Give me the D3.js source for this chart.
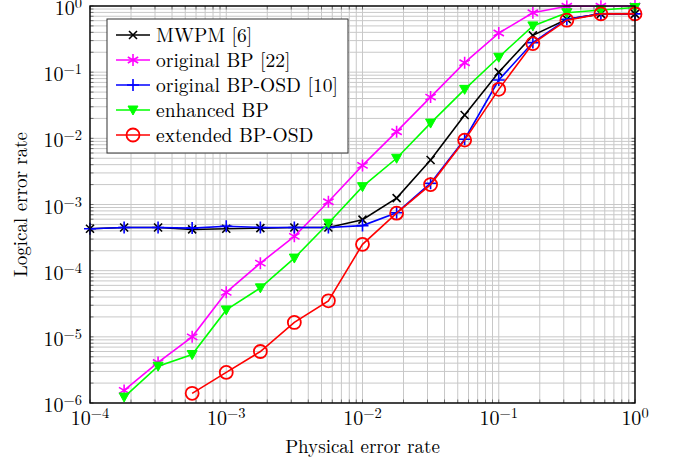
<!DOCTYPE html>
<html>
<head>
<meta charset="utf-8">
<script src="https://cdn.jsdelivr.net/npm/d3@7"></script>
<style>
  body { margin: 0; background: #fff; }
  svg text { font-family: "Latin Modern Roman", "Liberation Serif", "DejaVu Serif", serif; }
</style>
</head>
<body>
<svg id="chart" width="680" height="466"></svg>
<script>
// physical error rates (x)
var pRates = [1e-4, 1.78e-4, 3.16e-4, 5.62e-4, 1e-3, 1.78e-3, 3.16e-3, 5.62e-3,
              1e-2, 1.78e-2, 3.16e-2, 5.62e-2, 1e-1, 1.78e-1, 3.16e-1, 5.62e-1, 1];

// logical error rates per decoder (null = not plotted)
var mwpm      = [4.3e-4, 4.5e-4, 4.5e-4, 4.2e-4, 4.3e-4, 4.4e-4, 4.5e-4, 4.5e-4,
                 5.9e-4, 1.25e-3, 4.7e-3, 2.25e-2, 0.1, 0.36, 0.63, 0.76, 0.76];
var origBP    = [null, 1.55e-6, 4.1e-6, 1.0e-5, 4.7e-5, 1.3e-4, 3.3e-4, 1.1e-3,
                 3.9e-3, 1.26e-2, 4.2e-2, 0.139, 0.39, 0.79, 0.99, 0.99, 1.0];
var origOSD   = [4.3e-4, 4.5e-4, 4.5e-4, 4.4e-4, 4.7e-4, 4.5e-4, 4.5e-4, 4.5e-4,
                 4.8e-4, 7.5e-4, 2.1e-3, 9.7e-3, 0.076, 0.28, 0.63, 0.76, 0.76];
var enhBP     = [null, 1.23e-6, 3.6e-6, 5.4e-6, 2.55e-5, 5.5e-5, 1.55e-4, 5.2e-4,
                 1.86e-3, 5.0e-3, 1.7e-2, 5.5e-2, 0.168, 0.5, 0.79, 0.87, 0.95];
var extOSD    = [null, null, null, 1.4e-6, 2.9e-6, 6.0e-6, 1.65e-5, 3.5e-5,
                 2.5e-4, 7.4e-4, 2.0e-3, 9.4e-3, 0.055, 0.27, 0.61, 0.76, 0.76];

var seriesNames  = ["MWPM [6]", "original BP [22]", "original BP-OSD [10]", "enhanced BP", "extended BP-OSD"];
var seriesValues = [mwpm, origBP, origOSD, enhBP, extOSD];
var seriesColors = ["#000000", "#ff00ff", "#0000ff", "#00ff00", "#ff0000"];
var seriesMarks  = ["x", "asterisk", "plus", "triangle", "circle"];

var xTickExps = [-4, -3, -2, -1, 0];
var yTickExps = [-6, -5, -4, -3, -2, -1, 0];

var margins = {top: 6, right: 45, bottom: 63, left: 90};
var svg = d3.select("#chart");
var width = +svg.attr("width") - margins.left - margins.right;
var height = +svg.attr("height") - margins.top - margins.bottom;

var g = svg.append("g")
  .attr("transform", "translate(" + margins.left + "," + margins.top + ")");

var x = d3.scaleLog().domain([1e-4, 1]).range([0, width]);
var y = d3.scaleLog().domain([1e-6, 1]).range([height, 0]);

// minor + major values for grid
function logValues(lo, hi){
  var out = [];
  for (var e = lo; e < hi; e++){
    for (var m = 1; m < 10; m++) out.push(m * Math.pow(10, e));
  }
  out.push(Math.pow(10, hi));
  return out;
}
var xGrid = logValues(-4, 0);
var yGrid = logValues(-6, 0);

// grid lines
var grid = g.append("g").attr("class", "grid");
grid.selectAll("line.gx").data(xGrid).enter().append("line")
  .attr("x1", function(d){ return x(d); }).attr("x2", function(d){ return x(d); })
  .attr("y1", 0).attr("y2", height)
  .attr("stroke", "#c8c8c8").attr("stroke-width", 1);
grid.selectAll("line.gy").data(yGrid).enter().append("line")
  .attr("y1", function(d){ return y(d); }).attr("y2", function(d){ return y(d); })
  .attr("x1", 0).attr("x2", width)
  .attr("stroke", "#c8c8c8").attr("stroke-width", 1);

// inner tick marks on all sides
function tickMarks(sel, vals, horiz){
  var len = 3.5;
  vals.forEach(function(v){
    if (horiz){
      sel.append("line").attr("x1", x(v)).attr("x2", x(v)).attr("y1", height).attr("y2", height - len)
        .attr("stroke", "#555").attr("stroke-width", 0.8);
      sel.append("line").attr("x1", x(v)).attr("x2", x(v)).attr("y1", 0).attr("y2", len)
        .attr("stroke", "#555").attr("stroke-width", 0.8);
    } else {
      sel.append("line").attr("y1", y(v)).attr("y2", y(v)).attr("x1", 0).attr("x2", len)
        .attr("stroke", "#555").attr("stroke-width", 0.8);
      sel.append("line").attr("y1", y(v)).attr("y2", y(v)).attr("x1", width).attr("x2", width - len)
        .attr("stroke", "#555").attr("stroke-width", 0.8);
    }
  });
}
var ticks = g.append("g");
tickMarks(ticks, xGrid, true);
tickMarks(ticks, yGrid, false);

// series lines
var line = d3.line()
  .defined(function(d){ return d[1] != null; })
  .x(function(d){ return x(d[0]); })
  .y(function(d){ return y(d[1]); });

function drawMarker(sel, type, color){
  if (type == "x"){
    sel.append("path").attr("d", "M-4,-4L4,4M-4,4L4,-4")
      .attr("stroke", color).attr("stroke-width", 1.6).attr("fill", "none");
  } else if (type == "plus"){
    sel.append("path").attr("d", "M-6,0L6,0M0,-6L0,6")
      .attr("stroke", color).attr("stroke-width", 1.6).attr("fill", "none");
  } else if (type == "asterisk"){
    var p = "";
    [90, 30, 150].forEach(function(a){
      var rad = a * Math.PI / 180, dx = 6 * Math.cos(rad), dy = 6 * Math.sin(rad);
      p += "M" + (-dx) + "," + (-dy) + "L" + dx + "," + dy;
    });
    sel.append("path").attr("d", p)
      .attr("stroke", color).attr("stroke-width", 1.6).attr("fill", "none");
  } else if (type == "triangle"){
    sel.append("path").attr("d", "M-5,-4L5,-4L0,5Z")
      .attr("stroke", color).attr("stroke-width", 1).attr("fill", color);
  } else if (type == "circle"){
    sel.append("circle").attr("r", 6.5)
      .attr("stroke", color).attr("stroke-width", 1.8).attr("fill", "none");
  }
}

seriesValues.forEach(function(vals, si){
  var pts = pRates.map(function(p, i){ return [p, vals[i]]; });
  g.append("path").datum(pts)
    .attr("d", line)
    .attr("fill", "none")
    .attr("stroke", seriesColors[si])
    .attr("stroke-width", 1.6);
  pts.filter(function(d){ return d[1] != null; }).forEach(function(d){
    var m = g.append("g").attr("transform", "translate(" + x(d[0]) + "," + y(d[1]) + ")");
    drawMarker(m, seriesMarks[si], seriesColors[si]);
  });
});

// frame
g.append("rect").attr("x", 0).attr("y", 0).attr("width", width).attr("height", height)
  .attr("fill", "none").attr("stroke", "#000").attr("stroke-width", 1.4);

// tick labels with superscripts
function powLabel(sel, e, px, py, anchor){
  var t = sel.append("text").attr("x", px).attr("y", py)
    .attr("text-anchor", anchor).attr("font-size", 20).attr("fill", "#000");
  t.append("tspan").text("10");
  t.append("tspan").attr("dy", -7).attr("font-size", 14.5).text(e < 0 ? "\u2212" + (-e) : "" + e);
}
xTickExps.forEach(function(e){
  powLabel(g, e, x(Math.pow(10, e)), height + 22, "middle");
});
yTickExps.forEach(function(e){
  powLabel(g, e, -8, y(Math.pow(10, e)) + 9, "end");
});

// axis labels
g.append("text").attr("x", width / 2).attr("y", height + 50)
  .attr("text-anchor", "middle").attr("font-size", 19).text("Physical error rate");
g.append("text")
  .attr("transform", "translate(" + (-margins.left + 20) + "," + (height / 2) + ") rotate(-90)")
  .attr("text-anchor", "middle").attr("dy", "0.35em").attr("font-size", 19).text("Logical error rate");

// legend
var leg = g.append("g").attr("transform", "translate(17,13)");
leg.append("rect").attr("width", 241).attr("height", 134)
  .attr("fill", "#fff").attr("stroke", "#333").attr("stroke-width", 1);
seriesNames.forEach(function(name, i){
  var ly = 16 + i * 25;
  var row = leg.append("g").attr("transform", "translate(0," + ly + ")");
  row.append("line").attr("x1", 9).attr("x2", 43).attr("y1", 0).attr("y2", 0)
    .attr("stroke", seriesColors[i]).attr("stroke-width", 1.6);
  var m = row.append("g").attr("transform", "translate(26,0)");
  drawMarker(m, seriesMarks[i], seriesColors[i]);
  row.append("text").attr("x", 49).attr("y", 6.5).attr("font-size", 19.5).text(name);
});
</script>
</body>
</html>
